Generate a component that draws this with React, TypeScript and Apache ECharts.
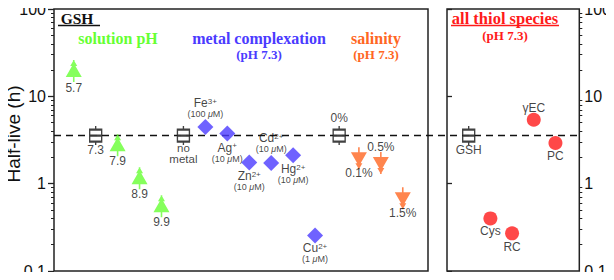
import React, { useEffect, useRef } from 'react';
import * as echarts from 'echarts';

// ---- data ----
const gshLevel = 3.55;

const phX = [1, 3, 4, 5];
const phLabels = ['5.7', '7.9', '8.9', '9.9'];
const phHalfLife = [19.5, 2.75, 1.15, 0.55];

const ctrlX = [2, 6, 13.1];
const ctrlLabels = ['7.3', 'no\nmetal', '0%'];
const ctrlHalfLife = [3.55, 3.55, 3.55];

const metalX = [7, 8, 9, 10, 11, 12];
const metalIons = ['Fe', 'Ag', 'Zn', 'Cd', 'Hg', 'Cu'];
const metalCharges = ['3+', '+', '2+', '2+', '2+', '2+'];
const metalConc = ['100', '10', '10', '10', '10', '1'];
const metalHalfLife = [4.45, 3.75, 1.75, 1.72, 2.12, 0.255];

const saltX = [14, 15, 16];
const saltLabels = ['0.1%', '0.5%', '1.5%'];
const saltHalfLife = [1.95, 1.72, 0.68];

const thiolX = [1, 2, 3, 4, 5];
const thiolNames = ['GSH', 'Cys', 'RC', 'γEC', 'PC'];
const thiolHalfLife = [3.55, 0.4, 0.27, 5.4, 2.92];

const minorTickValues = [
  0.2, 0.3, 0.4, 0.5, 0.6, 0.7, 0.8, 0.9,
  2, 3, 4, 5, 6, 7, 8, 9,
  20, 30, 40, 50, 60, 70, 80, 90,
];

// ---- styles ----
const SANS = '"Liberation Sans", Arial, sans-serif';
const SERIF = '"Liberation Serif", "Times New Roman", serif';
const GREEN = '#66ff33';
const BLUE = '#4b3bff';
const ORANGE = '#ff6622';
const RED = '#ff1a1a';
const INK = '#222';

const treeUp = 'path://M7.2,0H8.8V22H7.2Z M8,0L11.5,6H4.5Z M8,3L16,17H0Z';
const treeDown = 'path://M7.2,0H8.8V22H7.2Z M4.5,16H11.5L8,22Z M0,5H16L8,19Z';
const boxSym = 'path://M0,3.5H12V15.5H0Z M0,9.5H12 M6,0V3.5 M6,15.5V19';

const labelBase = { show: true, color: '#111', fontFamily: SANS, fontSize: 12, lineHeight: 12 };

const richMetal = {
  ion: { fontSize: 12, fontFamily: SANS, color: '#111', lineHeight: 12 },
  sup: { fontSize: 8, fontFamily: SANS, color: '#111', lineHeight: 12, verticalAlign: 'top' as const },
  conc: { fontSize: 9, fontFamily: SANS, color: '#111', lineHeight: 10 },
  mu: { fontSize: 9, fontFamily: SANS, color: '#111', lineHeight: 10, fontStyle: 'italic' as const },
};

export default function App() {
  const ref = useRef<HTMLDivElement>(null);

  useEffect(() => {
    if (!ref.current) return;
    const chart = echarts.init(ref.current, null, { renderer: 'svg' });

    const phPos = [
      { position: 'bottom', distance: 0 },
      { position: 'bottom', distance: -1 },
      { position: 'bottom', distance: -1 },
      { position: 'bottom', distance: -1 },
    ];
    const ctrlPos = [
      { position: 'bottom', distance: -2 },
      { position: 'bottom', distance: -4, lineHeight: 11, fontSize: 11.5 },
      { position: 'top', distance: 1 },
    ];
    const metalPos = [
      { position: 'top', distance: 0 },
      { position: 'bottom', distance: 0 },
      { position: 'bottom', distance: 0 },
      { position: 'top', distance: 1 },
      { position: 'bottom', distance: 0 },
      { position: 'bottom', distance: -1 },
    ];
    const saltPos = [
      { position: 'bottom', distance: -2 },
      { position: 'top', distance: -1 },
      { position: 'bottom', distance: -2 },
    ];
    const thiolPos = [
      { position: 'bottom', distance: -2 },
      { position: 'bottom', distance: 0 },
      { position: 'bottom', distance: 1 },
      { position: 'top', distance: -1 },
      { position: 'bottom', distance: 0 },
    ];

    const logAxisBase = {
      type: 'log' as const,
      logBase: 10,
      min: 0.1,
      max: 100,
      splitLine: { show: false },
      axisLine: { show: false },
    };

    const option: any = {
      animation: false,
      backgroundColor: '#fff',
      grid: [
        { left: 54, top: 9, width: 374, height: 262, show: true, borderColor: INK, borderWidth: 1.5, backgroundColor: 'transparent' },
        { left: 447, top: 9, width: 134, height: 262, show: true, borderColor: INK, borderWidth: 1.5, backgroundColor: 'transparent' },
        { left: 54, top: 9, width: 527, height: 262, show: false },
      ],
      xAxis: [
        { gridIndex: 0, type: 'value', min: 0.1, max: 17.15, show: false },
        { gridIndex: 1, type: 'value', min: 0, max: 6.1, show: false },
        { gridIndex: 2, type: 'value', min: 0, max: 1, show: false },
      ],
      yAxis: [
        {
          ...logAxisBase,
          gridIndex: 0,
          position: 'left',
          axisTick: { show: true, length: 6, lineStyle: { color: INK, width: 1.3 } },
          axisLabel: { fontSize: 16, margin: 8, color: '#111', fontFamily: SANS },
        },
        {
          ...logAxisBase,
          gridIndex: 1,
          position: 'right',
          axisTick: { show: true, length: 5, lineStyle: { color: INK, width: 1.3 } },
          axisLabel: { fontSize: 16, margin: 5, color: '#111', fontFamily: SANS },
        },
        { ...logAxisBase, gridIndex: 2, show: false },
        {
          ...logAxisBase,
          gridIndex: 0,
          position: 'left',
          axisTick: { show: true, length: 3, customValues: minorTickValues, lineStyle: { color: INK, width: 1 } },
          axisLabel: { show: false },
        },
        {
          ...logAxisBase,
          gridIndex: 1,
          position: 'right',
          axisTick: { show: true, length: 3, customValues: minorTickValues, lineStyle: { color: INK, width: 1 } },
          axisLabel: { show: false },
        },
      ],
      graphic: [
        {
          type: 'text', x: 13, y: 134, rotation: Math.PI / 2,
          style: { text: 'Half-live (h)', font: `19px ${SANS}`, fill: '#111', textAlign: 'center', textVerticalAlign: 'middle' },
        },
        { type: 'text', x: 77, y: 18, style: { text: 'GSH', font: `bold 15.5px ${SERIF}`, fill: '#111', textAlign: 'center', textVerticalAlign: 'middle' } },
        { type: 'line', shape: { x1: 58, y1: 25.5, x2: 100, y2: 25.5 }, style: { stroke: '#111', lineWidth: 1.5 } },
        { type: 'text', x: 118, y: 38.5, style: { text: 'solution pH', font: `bold 16px ${SERIF}`, fill: GREEN, textAlign: 'center', textVerticalAlign: 'middle' } },
        { type: 'text', x: 259, y: 38.5, style: { text: 'metal complexation', font: `bold 16px ${SERIF}`, fill: BLUE, textAlign: 'center', textVerticalAlign: 'middle' } },
        { type: 'text', x: 259, y: 54.5, style: { text: '(pH 7.3)', font: `bold 13px ${SERIF}`, fill: BLUE, textAlign: 'center', textVerticalAlign: 'middle' } },
        { type: 'text', x: 376, y: 38.5, style: { text: 'salinity', font: `bold 16px ${SERIF}`, fill: ORANGE, textAlign: 'center', textVerticalAlign: 'middle' } },
        { type: 'text', x: 376, y: 54.5, style: { text: '(pH 7.3)', font: `bold 13px ${SERIF}`, fill: ORANGE, textAlign: 'center', textVerticalAlign: 'middle' } },
        { type: 'text', x: 505, y: 18, style: { text: 'all thiol species', font: `bold 16.5px ${SERIF}`, fill: RED, textAlign: 'center', textVerticalAlign: 'middle' } },
        { type: 'line', shape: { x1: 451, y1: 25.5, x2: 559, y2: 25.5 }, style: { stroke: RED, lineWidth: 1.5 } },
        { type: 'text', x: 505, y: 35, style: { text: '(pH 7.3)', font: `bold 13px ${SERIF}`, fill: RED, textAlign: 'center', textVerticalAlign: 'middle' } },
      ],
      series: [
        {
          type: 'line',
          xAxisIndex: 2,
          yAxisIndex: 2,
          data: [[0, gshLevel], [1, gshLevel]],
          symbol: 'none',
          silent: true,
          lineStyle: { color: '#111', width: 1.5, type: [7, 5] },
          z: 1,
        },
        {
          type: 'scatter',
          xAxisIndex: 0,
          yAxisIndex: 0,
          symbol: treeUp,
          symbolSize: [16, 22],
          itemStyle: { color: GREEN },
          z: 3,
          data: phX.map((x, i) => ({
            value: [x, phHalfLife[i]],
            label: { ...labelBase, formatter: phLabels[i], ...phPos[i] },
          })),
        },
        {
          type: 'scatter',
          xAxisIndex: 0,
          yAxisIndex: 0,
          symbol: boxSym,
          symbolSize: [12, 19],
          itemStyle: { color: '#fff', borderColor: '#111', borderWidth: 1.7 },
          z: 3,
          data: ctrlX.map((x, i) => ({
            value: [x, ctrlHalfLife[i]],
            label: { ...labelBase, formatter: ctrlLabels[i], ...ctrlPos[i] },
          })),
        },
        {
          type: 'scatter',
          xAxisIndex: 0,
          yAxisIndex: 0,
          symbol: 'diamond',
          symbolSize: [16, 16],
          itemStyle: { color: BLUE },
          z: 3,
          data: metalX.map((x, i) => ({
            value: [x, metalHalfLife[i]],
            label: {
              show: true,
              formatter: `{ion|${metalIons[i]}}{sup|${metalCharges[i]}}\n{conc|(${metalConc[i]} }{mu|μ}{conc|M)}`,
              rich: richMetal,
              align: 'center',
              ...metalPos[i],
            },
          })),
        },
        {
          type: 'scatter',
          xAxisIndex: 0,
          yAxisIndex: 0,
          symbol: treeDown,
          symbolSize: [16, 22],
          itemStyle: { color: ORANGE },
          z: 3,
          data: saltX.map((x, i) => ({
            value: [x, saltHalfLife[i]],
            label: { ...labelBase, formatter: saltLabels[i], ...saltPos[i] },
          })),
        },
        {
          type: 'scatter',
          xAxisIndex: 1,
          yAxisIndex: 1,
          symbol: 'circle',
          symbolSize: 14,
          itemStyle: { color: RED },
          z: 3,
          data: thiolX.map((x, i) =>
            thiolNames[i] === 'GSH'
              ? {
                  value: [x, thiolHalfLife[i]],
                  symbol: boxSym,
                  symbolSize: [12, 19],
                  itemStyle: { color: '#fff', borderColor: '#111', borderWidth: 1.7 },
                  label: { ...labelBase, formatter: thiolNames[i], ...thiolPos[i] },
                }
              : {
                  value: [x, thiolHalfLife[i]],
                  label: { ...labelBase, formatter: thiolNames[i], ...thiolPos[i] },
                }
          ),
        },
      ],
    };

    chart.setOption(option);
    return () => chart.dispose();
  }, []);

  return <div ref={ref} style={{ width: 614, height: 280, margin: -8 }} />;
}
